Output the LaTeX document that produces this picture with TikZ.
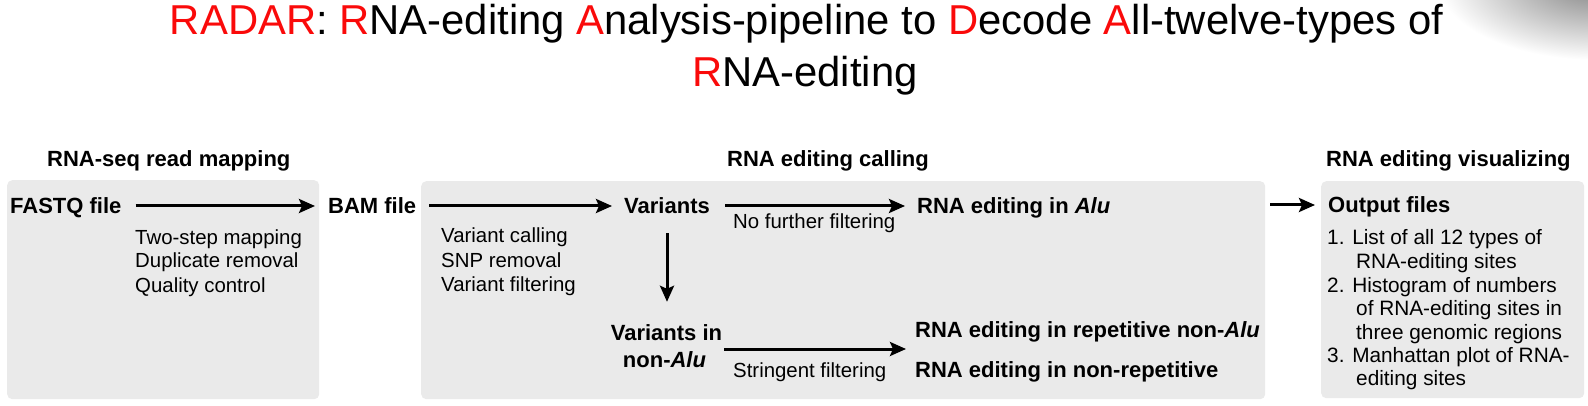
\documentclass[tikz,border=0pt]{standalone}
\usepackage{fontspec}
\setmainfont{Liberation Sans}
\usetikzlibrary{arrows.meta,calc}
\definecolor{boxgray}{RGB}{234,234,234}
\definecolor{titlered}{RGB}{250,10,10}
\begin{document}
\begin{tikzpicture}[x=1pt,y=-1pt,
  bold/.style={font=\bfseries\fontsize{22}{26}\selectfont, inner sep=0pt, text height=16pt, text depth=0pt, anchor=base west},
  reg/.style={font=\fontsize{20.4}{24}\selectfont, inner sep=0pt, anchor=base west},
  lst/.style={font=\fontsize{20.8}{24}\selectfont, inner sep=0pt, anchor=base west},
  ttl/.style={font=\fontsize{41.8}{52}\selectfont, inner sep=0pt, anchor=base},
  box/.style={fill=boxgray, draw=none, rounded corners=5pt, inner sep=0pt, anchor=north west},
  arr/.style={-{Stealth[length=16pt,width=14pt,inset=3pt]}, line width=3pt}]
\useasboundingbox (0,0) rectangle (1588,406);
% corner shadow
\begin{scope}
\clip (0,0) rectangle (1588,406);
\shade[inner color=black!50, outer color=white] (1598,-18) ellipse [x radius=160pt, y radius=78pt];
\end{scope}
% title
\node[ttl] (t1) at (806.5,35) {\textcolor{titlered}{RADAR}: \textcolor{titlered}{R}NA-editing \textcolor{titlered}{A}nalysis-pipeline to \textcolor{titlered}{D}ecode \textcolor{titlered}{A}ll-twelve-types of};
\node[ttl] (t2) at (805,87) {\textcolor{titlered}{R}NA-editing};
% headers
\node[bold] (h1) at (47,167) {RNA-seq read mapping};
\node[bold] (h2) at (727,167) {RNA editing calling};
\node[bold] (h3) at (1326,167) {RNA editing visualizing};
% boxes
\node[box, minimum width=312pt, minimum height=219pt] (b1) at (7,180) {};
\node[box, minimum width=844pt, minimum height=218pt] (b2) at (421,181) {};
\node[box, minimum width=263pt, minimum height=217pt] (b3) at (1321,181) {};
% main nodes
\node[bold] (fastq) at (10,214) {FASTQ file};
\node[bold] (bam) at (328,214) {BAM file};
\node[bold] (var) at (624,214) {Variants};
\node[bold] (alu) at (917,214) {RNA editing in \textit{Alu}};
\node[bold, anchor=base] (vin) at (666.5,340) {Variants in};
\node[bold, anchor=base] (vnon) at (664.5,367) {non-\textit{Alu}};
\node[bold] (rep) at (915,337) {RNA editing in repetitive non-\textit{Alu}};
\node[bold] (nonrep) at (915,377) {RNA editing in non-repetitive};
\node[bold] (outp) at (1328,213) {Output files};
% annotations
\node[reg] (m1) at (135,244) {Two-step mapping};
\node[reg] (m2) at (135,268) {Duplicate removal};
\node[reg] (m3) at (135,292) {Quality control};
\node[reg] (c1) at (441,243) {Variant calling};
\node[reg] (c2) at (441,267) {SNP removal};
\node[reg] (c3) at (441,291) {Variant filtering};
\node[reg] (nf) at (733,229) {No further filtering};
\node[reg] (sf) at (733,377) {Stringent filtering};
% output list
\node[lst] (o1) at (1327,245) {1. List of all 12 types of};
\node[lst] (o2) at (1356,268.5) {RNA-editing sites};
\node[lst] (o3) at (1327,292) {2. Histogram of numbers};
\node[lst] (o4) at (1356,315.5) {of RNA-editing sites in};
\node[lst] (o5) at (1356,339) {three genomic regions};
\node[lst] (o6) at (1327,362) {3. Manhattan plot of RNA-};
\node[lst] (o7) at (1356,385.5) {editing sites};
% connectors
\coordinate (mid) at ($(rep.south west)!0.5!(nonrep.north west)$);
\draw[arr, shorten <=14pt, shorten >=13pt] (fastq.east) -- (bam.west);
\draw[arr, shorten <=13pt, shorten >=12pt] (bam.east) -- (var.west);
\draw[arr, shorten <=15pt, shorten >=12pt] (var.east) -- (alu.west);
\draw[arr, shorten <=19pt, shorten >=22pt] (var.south) -- (var.south |- vin.north);
\draw[arr, shorten <=2pt, shorten >=9pt] (vin.east |- mid) -- (mid);
\draw[arr, shorten <=5pt, shorten >=13pt] (b2.east |- outp.west) -- (outp.west);
\end{tikzpicture}
\end{document}
